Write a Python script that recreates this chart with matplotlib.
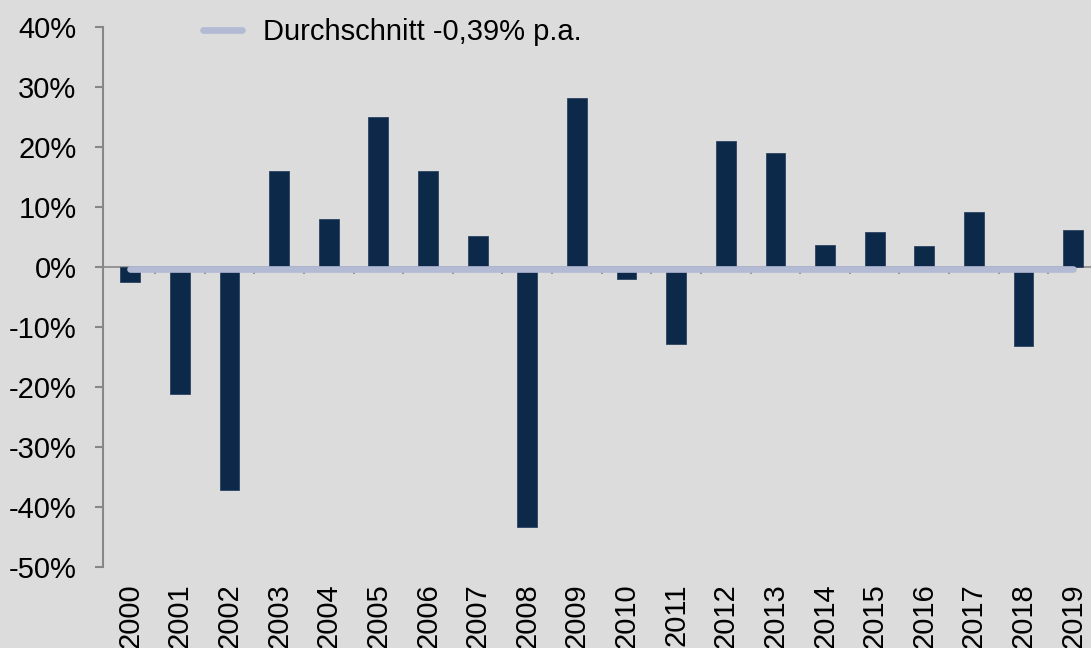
import numpy as np
import matplotlib.pyplot as plt

plt.rcParams['font.family'] = ['Liberation Sans', 'DejaVu Sans']

years = [str(y) for y in range(2000, 2020)]
returns = [-2.5, -21.2, -37.2, 16.0, 8.0, 25.0, 16.0, 5.2, -43.4, 28.2,
           -2.0, -12.9, 21.0, 19.0, 3.7, 5.8, 3.5, 9.2, -13.2, 6.2]
average = -0.39
yticks = list(range(-50, 41, 10))

bg = '#dcdcdc'
barColor = '#0c2949'
avgColor = '#b3bad4'
axisGray = '#878787'
fs = 21

fig = plt.figure(figsize=(10.91, 6.48), dpi=100, facecolor=bg)
ax = fig.add_axes([103/1091, 81/648, 995/1091, 540/648])
ax.set_facecolor(bg)

x = np.arange(len(years))
ax.bar(x, returns, width=0.4, color=barColor, edgecolor='#2c4363', linewidth=0.6, zorder=2)

# zero line with small category ticks
ax.axhline(0, color=axisGray, linewidth=1.2, zorder=1)
ax.vlines(x[:-1] + 0.5, -1.1, 0, color=axisGray, linewidth=1.2, zorder=1)

# average line
ax.plot([x[0], x[-1]], [average, average], color=avgColor, linewidth=4.8,
        solid_capstyle='round', zorder=3, label='Durchschnitt -0,39% p.a.')

ax.set_xlim(-0.55, 19.5)
ax.set_ylim(-50, 40)
ax.set_yticks(yticks)
ax.set_yticklabels(['%d%%' % t for t in yticks], fontsize=fs)
ax.set_xticks(x)
ax.set_xticklabels(years, rotation=90, fontsize=fs, va='top')

for s in ['top', 'right', 'bottom']:
    ax.spines[s].set_visible(False)
ax.spines['left'].set_color(axisGray)
ax.spines['left'].set_linewidth(1.5)
ax.tick_params(axis='y', length=6, width=1.5, color=axisGray, pad=13)
ax.tick_params(axis='x', length=0, pad=12)

ax.legend(loc='center left', bbox_to_anchor=(203/1091, 1-32/648),
          bbox_transform=fig.transFigure, frameon=False, fontsize=fs,
          borderpad=0, borderaxespad=0, handlelength=1.35, handletextpad=0.7)

fig.savefig('out.png', dpi=100, facecolor=bg)
